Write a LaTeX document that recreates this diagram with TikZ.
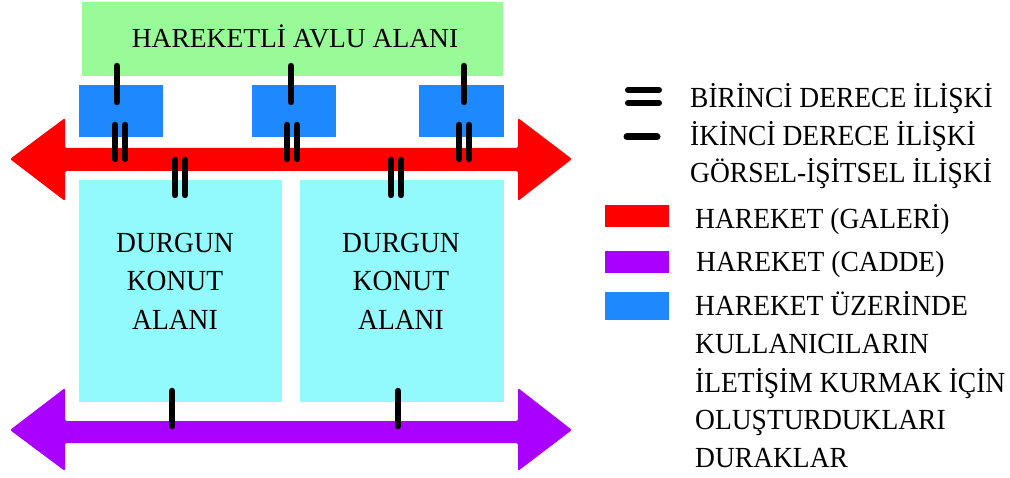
\documentclass[tikz,border=0pt]{standalone}
\usepackage{fontspec}
\setmainfont{Liberation Serif}
\definecolor{avlu}{RGB}{152,251,152}
\definecolor{durak}{RGB}{30,136,255}
\definecolor{konut}{RGB}{146,249,252}
\definecolor{galeri}{RGB}{255,0,0}
\definecolor{cadde}{RGB}{170,0,255}
\newcommand\talltext[1]{\scalebox{1}[1.06]{#1}}
\tikzset{
  area/.style={draw=none, inner sep=0pt, outer sep=0pt, anchor=north west},
  lbl/.style={inner sep=0pt, anchor=base, font=\fontsize{27.5}{33}\selectfont},
  leg/.style={inner sep=0pt, anchor=base west, font=\fontsize{27.5}{33}\selectfont},
  relbar/.style={line width=6.5pt, line cap=round, draw=black},
  flow/.style={rounded corners=2pt},
}
\begin{document}
\begin{tikzpicture}[x=1pt,y=-1pt]
\useasboundingbox (0,0) rectangle (1010,478);
% areas
\node[area, fill=avlu, minimum width=421pt, minimum height=74pt] (avlu) at (82,2) {};
\node[area, fill=durak, minimum width=84pt, minimum height=52pt] (d1) at (79,85) {};
\node[area, fill=durak, minimum width=84pt, minimum height=52pt] (d2) at (252,85) {};
\node[area, fill=durak, minimum width=85pt, minimum height=52pt] (d3) at (419,85) {};
\node[area, fill=konut, minimum width=203pt, minimum height=222pt] (k1) at (79,180) {};
\node[area, fill=konut, minimum width=204pt, minimum height=222pt] (k2) at (300,180) {};
% arrows
\fill[galeri, flow] (10,159) -- (65,118) -- (65,148) -- (518,148) -- (518,118) -- (572,159)
  -- (518,201) -- (518,171) -- (65,171) -- (65,201) -- cycle;
\fill[cadde, flow] (10,430) -- (65,388) -- (65,421) -- (518,421) -- (518,388) -- (572,430)
  -- (518,471) -- (518,443) -- (65,443) -- (65,471) -- cycle;
% labels
\node[lbl] (tavlu) at (295,48) {HAREKETLİ AVLU ALANI};
\node[lbl] (k1a) at (175,253) {\talltext{DURGUN}};
\node[lbl] (k1b) at (175,291) {\talltext{KONUT}};
\node[lbl] (k1c) at (175,330) {\talltext{ALANI}};
\node[lbl] (k2a) at (401,253) {\talltext{DURGUN}};
\node[lbl] (k2b) at (401,291) {\talltext{KONUT}};
\node[lbl] (k2c) at (401,330) {\talltext{ALANI}};
% relation bars: second degree
\foreach \x in {117,291,464} \draw[relbar] (\x,66) -- (\x,102);
\foreach \x in {172,398} \draw[relbar] (\x,391) -- (\x,426);
% first degree
\foreach \x in {115,125,287,297,459,469} \draw[relbar] (\x,125) -- (\x,159);
\foreach \x in {175,185,391,401} \draw[relbar] (\x,160) -- (\x,195);
% legend
\draw[line width=6pt, line cap=round] (628,90) -- (659,90);
\draw[line width=6pt, line cap=round] (628,103) -- (659,103);
\draw[line width=7pt, line cap=round] (627,137) -- (657,137);
\node[area, fill=galeri, minimum width=64pt, minimum height=22pt] (lg1) at (605,205) {};
\node[area, fill=cadde, minimum width=64pt, minimum height=22pt] (lg2) at (605,251) {};
\node[area, fill=durak, minimum width=64pt, minimum height=28pt] (lg3) at (605,292) {};
\node[leg] (l1) at (690,108) {\talltext{BİRİNCİ DERECE İLİŞKİ}};
\node[leg] (l2) at (690,146) {\talltext{İKİNCİ DERECE İLİŞKİ}};
\node[leg] (l3) at (690,183) {\talltext{GÖRSEL-İŞİTSEL İLİŞKİ}};
\node[leg] (l4) at (695,229) {\talltext{HAREKET (GALERİ)}};
\node[leg] (l5) at (696,272) {\talltext{HAREKET (CADDE)}};
\node[leg] (l6) at (695,316) {\talltext{HAREKET ÜZERİNDE}};
\node[leg] (l7) at (695,354) {\talltext{KULLANICILARIN}};
\node[leg] (l8) at (695,392) {\talltext{İLETİŞİM KURMAK İÇİN}};
\node[leg] (l9) at (695,429) {\talltext{OLUŞTURDUKLARI}};
\node[leg] (l10) at (695,467) {\talltext{DURAKLAR}};
\end{tikzpicture}
\end{document}
